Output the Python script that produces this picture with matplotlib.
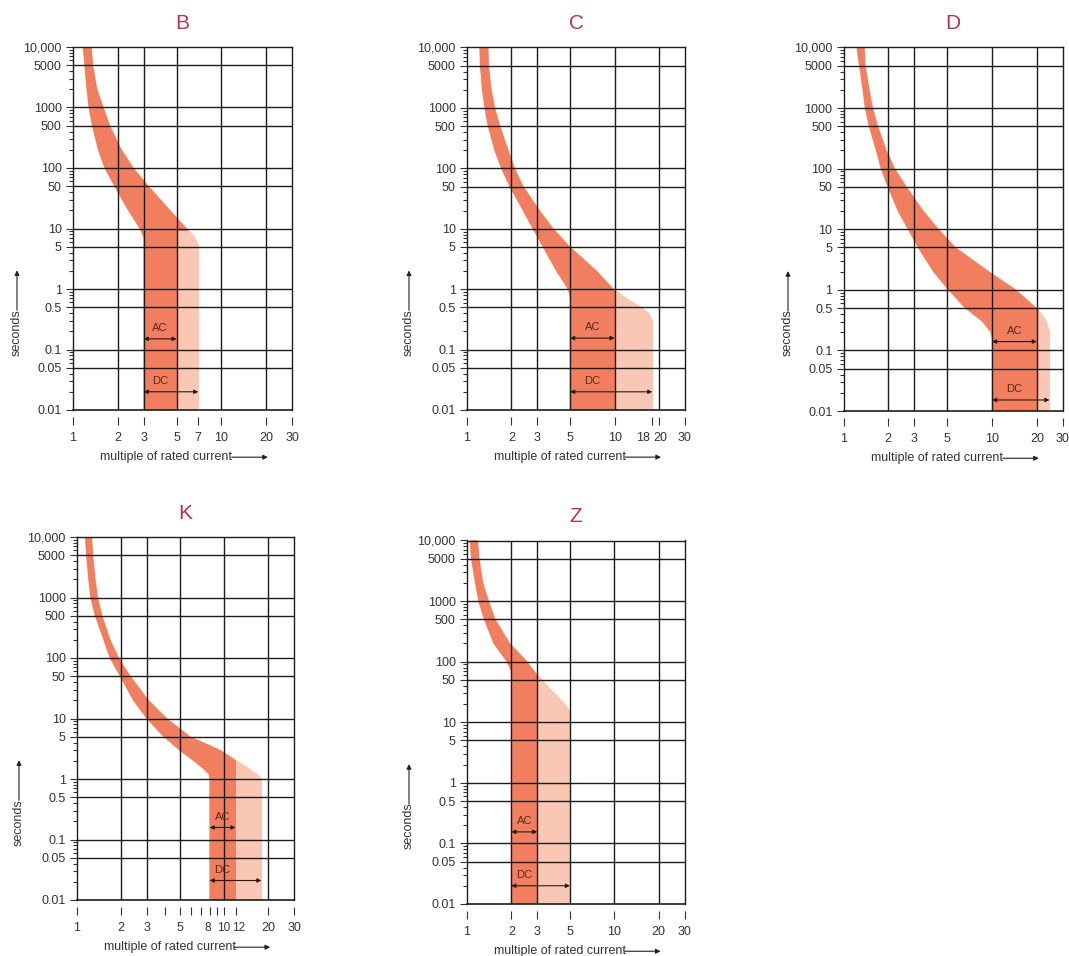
import numpy as np
import matplotlib
matplotlib.use("Agg")
import matplotlib.pyplot as plt
from matplotlib.patches import Polygon, Rectangle
from matplotlib import transforms

plt.rcParams['font.family'] = ['Liberation Sans', 'DejaVu Sans']

W, H = 1069, 956

# ---------------- data ----------------
names = ["B", "C", "D", "K", "Z"]

B_t  = [10000, 5000, 2000, 1000, 500, 200, 100, 50, 20, 10, 7, 5, 0.01]
B_xl = [1.17, 1.20, 1.24, 1.28, 1.35, 1.48, 1.64, 1.91, 2.36, 2.83, 3.0, 3.0, 3.0]
B_xr = [1.33, 1.36, 1.45, 1.60, 1.77, 2.12, 2.55, 3.22, 4.5, 5.84, 6.65, 7.0, 7.0]
B_ac = (3, 5)
B_dc = (3, 7)
B_cut = 9          # below this time only DC trips beyond the AC limit
B_xticks = [1, 2, 3, 5, 7, 10, 20, 30]

C_t  = [10000, 5000, 2000, 1000, 500, 200, 100, 50, 20, 10, 5, 2, 1, 0.7, 0.5, 0.4, 0.3, 0.01]
C_xl = [1.22, 1.23, 1.27, 1.32, 1.39, 1.54, 1.71, 1.95, 2.4, 2.8, 3.28, 4.04, 4.85, 5.0, 5.0, 5.0, 5.0, 5.0]
C_xr = [1.39, 1.40, 1.46, 1.54, 1.67, 1.90, 2.10, 2.40, 3.10, 3.83, 4.97, 7.55, 9.8, 12.0, 15.0, 17.0, 18.0, 18.0]
C_ac = (5, 10)
C_dc = (5, 18)
C_cut = 1.0
C_xticks = [1, 2, 3, 5, 10, 18, 20, 30]

D_t  = [10000, 5000, 2000, 1000, 500, 200, 100, 50, 20, 10, 5, 2, 1, 0.5, 0.4, 0.3, 0.2, 0.15, 0.01]
D_xl = [1.23, 1.28, 1.35, 1.40, 1.49, 1.66, 1.79, 1.99, 2.33, 2.72, 3.18, 4.03, 5.09, 6.6, 7.4, 8.6, 9.8, 10, 10]
D_xr = [1.38, 1.40, 1.49, 1.57, 1.70, 1.94, 2.21, 2.65, 3.44, 4.35, 5.65, 9.5, 14.4, 19.8, 21.4, 23.1, 24.3, 24.3, 24.3]
D_ac = (10, 20)
D_dc = (10, 24.3)
D_cut = 0.5
D_xticks = [1, 2, 3, 5, 10, 20, 30]

K_t  = [10000, 5000, 2000, 1000, 500, 200, 100, 50, 20, 10, 5, 3, 2, 1.5, 1.2, 1, 0.01]
K_xl = [1.14, 1.16, 1.20, 1.24, 1.33, 1.52, 1.68, 1.97, 2.42, 2.99, 3.9, 5.0, 6.2, 7.2, 7.9, 8, 8]
K_xr = [1.26, 1.28, 1.33, 1.38, 1.48, 1.68, 1.92, 2.30, 3.06, 4.08, 5.87, 9.4, 12.2, 14.6, 16.6, 18, 18]
K_ac = (8, 12)
K_dc = (8, 18)
K_cut = 2.3
K_xticks = [1, 2, 3, 5, 8, 10, 12, 20, 30]
K_xminor = [4, 6, 7, 9]

Z_t  = [10000, 5000, 2000, 1000, 500, 200, 100, 70, 50, 30, 20, 15, 0.01]
Z_xl = [1.05, 1.07, 1.14, 1.20, 1.31, 1.52, 1.87, 2.0, 2.0, 2.0, 2.0, 2.0, 2.0]
Z_xr = [1.18, 1.21, 1.28, 1.40, 1.55, 1.95, 2.55, 2.85, 3.2, 3.9, 4.6, 5.0, 5.0]
Z_ac = (2, 3)
Z_dc = (2, 5)
Z_cut = 55
Z_xticks = [1, 2, 3, 5, 10, 20, 30]

y_ticks = [0.01, 0.05, 0.1, 0.5, 1, 5, 10, 50, 100, 500, 1000, 5000, 10000]
y_labels = ["0.01", "0.05", "0.1", "0.5", "1", "5", "10", "50", "100", "500", "1000", "5000", "10,000"]
x_grid = [2, 3, 5, 10, 20]
y_grid = [0.05, 0.1, 0.5, 1, 5, 10, 50, 100, 500, 1000, 5000]

# arrow heights (seconds): AC arrow, DC arrow
arrow_y = {"B": (0.15, 0.02), "C": (0.155, 0.02), "D": (0.14, 0.0152),
           "K": (0.158, 0.021), "Z": (0.155, 0.02)}

panels = {
    "B": (B_t, B_xl, B_xr, B_ac, B_dc, B_cut, B_xticks, []),
    "C": (C_t, C_xl, C_xr, C_ac, C_dc, C_cut, C_xticks, []),
    "D": (D_t, D_xl, D_xr, D_ac, D_dc, D_cut, D_xticks, []),
    "K": (K_t, K_xl, K_xr, K_ac, K_dc, K_cut, K_xticks, K_xminor),
    "Z": (Z_t, Z_xl, Z_xr, Z_ac, Z_dc, Z_cut, Z_xticks, []),
}

# axes boxes in pixels: left, right, top, bottom
boxes = {
    "B": (73, 292, 47, 410),
    "C": (467, 685, 47.5, 410),
    "D": (843.5, 1063, 47.5, 411),
    "K": (77, 294, 537, 900),
    "Z": (467, 684.5, 540.5, 904),
}
# x pixel of the vertical "seconds" label
sec_x = {"B": 17, "C": 409, "D": 788, "K": 19, "Z": 409}
# small pixel nudges for crowded tick labels: (panel, value) -> dx pixels
label_nudge = {("C", 18): -9, ("C", 20): 1, ("K", 8): -2, ("K", 12): 3}

DARK = "#f07e5f"
LIGHT = "#f9c7b3"
GRID = "#1c1c1c"
TITLE = "#b8354f"
TXT = "#333333"
FS = 9

fig = plt.figure(figsize=(W / 100, H / 100), dpi=100)
fig.patch.set_facecolor("white")

for name in names:
    t, xl, xr, ac, dc, cut, xticks, xminor = panels[name]
    l, r, tp, b = boxes[name]
    ax = fig.add_axes([l / W, (H - b) / H, (r - l) / W, (b - tp) / H])
    ax.set_xscale("log")
    ax.set_yscale("log")
    ax.set_xlim(1, 30)
    ax.set_ylim(0.01, 10000)

    # band polygon
    verts = list(zip(xl, t)) + list(zip(xr[::-1], t[::-1]))
    light = Polygon(verts, closed=True, facecolor=LIGHT, edgecolor=LIGHT,
                    linewidth=1.0, zorder=1)
    ax.add_patch(light)
    # dark part 1: within the AC limit
    dark1 = Polygon(verts, closed=True, facecolor=DARK, edgecolor="none", zorder=1.1)
    ax.add_patch(dark1)
    dark1.set_clip_path(Rectangle((0.5, 1e-4), ac[1] - 0.5, 1e6, transform=ax.transData))
    # dark part 2: the curved part above the cut time
    dark2 = Polygon(verts, closed=True, facecolor=DARK, edgecolor="none", zorder=1.1)
    ax.add_patch(dark2)
    dark2.set_clip_path(Rectangle((0.5, cut), 100, 1e6, transform=ax.transData))

    # grid
    for gx in x_grid:
        ax.axvline(gx, color=GRID, lw=1.0, zorder=2)
    for gy in y_grid:
        ax.axhline(gy, color=GRID, lw=1.0, zorder=2)

    # frame
    for s in ["left", "right", "top"]:
        ax.spines[s].set_color(GRID)
        ax.spines[s].set_linewidth(1.0)
        ax.spines[s].set_zorder(3)
    ax.spines["bottom"].set_position(("outward", 5))
    ax.spines["bottom"].set_visible(False)
    ax.axhline(0.01, color=GRID, lw=1.2, zorder=3, clip_on=False)

    # y ticks
    ax.set_yticks(y_ticks)
    ax.set_yticklabels(y_labels)
    ax.yaxis.set_minor_locator(matplotlib.ticker.LogLocator(base=10, subs=np.arange(2, 10)))
    ax.yaxis.set_minor_formatter(matplotlib.ticker.NullFormatter())
    ax.tick_params(axis="y", which="major", length=5, width=0.8, pad=3,
                   labelsize=FS, colors=TXT)
    ax.tick_params(axis="y", which="minor", length=3, width=0.8, colors=TXT)

    # x ticks
    ax.set_xticks(xticks)
    ax.set_xticklabels([str(v) for v in xticks])
    ax.xaxis.set_minor_locator(matplotlib.ticker.FixedLocator(xminor))
    ax.xaxis.set_minor_formatter(matplotlib.ticker.NullFormatter())
    ax.tick_params(axis="x", which="both", length=6, width=0.8, pad=5,
                   labelsize=FS, colors=TXT)
    for lab, v in zip(ax.get_xticklabels(), xticks):
        dx = label_nudge.get((name, v))
        if dx:
            lab.set_transform(lab.get_transform() +
                              transforms.ScaledTranslation(dx / 100, 0, fig.dpi_scale_trans))
        if name == "K" and v in (8, 10, 12):
            lab.set_fontsize(8.5)

    # title
    ax.set_title(name, color=TITLE, fontsize=15, pad=13)

    # AC / DC arrows
    ya, yd = arrow_y[name]
    xc = np.sqrt(ac[0] * ac[1])
    arrow_kw = dict(arrowstyle="<|-|>", color="#2a1a14", lw=0.8,
                    mutation_scale=6, shrinkA=0, shrinkB=0)
    ax.annotate("", xy=(ac[1], ya), xytext=(ac[0], ya), arrowprops=arrow_kw, zorder=4)
    ax.annotate("", xy=(dc[1], yd), xytext=(dc[0], yd), arrowprops=arrow_kw, zorder=4)
    ax.text(xc, ya * 1.5, "AC", fontsize=8, color="#5a2a1e", ha="center", va="center", zorder=4)
    ax.text(xc, yd * 1.5, "DC", fontsize=8, color="#5a2a1e", ha="center", va="center", zorder=4)

    # axis labels with arrows
    ax.text(0.125, -0.13, "multiple of rated current", transform=ax.transAxes,
            fontsize=FS, color=TXT, ha="left", va="center")
    ax.annotate("", xy=(0.89, -0.13), xytext=(0.725, -0.13), xycoords="axes fraction",
                textcoords="axes fraction",
                arrowprops=dict(arrowstyle="-|>", color="#222222", lw=0.8,
                                mutation_scale=7, shrinkA=0, shrinkB=0))
    sx = (sec_x[name] - l) / (r - l)
    ax.text(sx, 0.15, "seconds", transform=ax.transAxes, rotation=90,
            fontsize=FS, color=TXT, ha="center", va="bottom")
    ax.annotate("", xy=(sx, 0.385), xytext=(sx, 0.275), xycoords="axes fraction",
                textcoords="axes fraction",
                arrowprops=dict(arrowstyle="-|>", color="#222222", lw=0.8,
                                mutation_scale=7, shrinkA=0, shrinkB=0))

fig.savefig("out.png", dpi=100, facecolor="white")
